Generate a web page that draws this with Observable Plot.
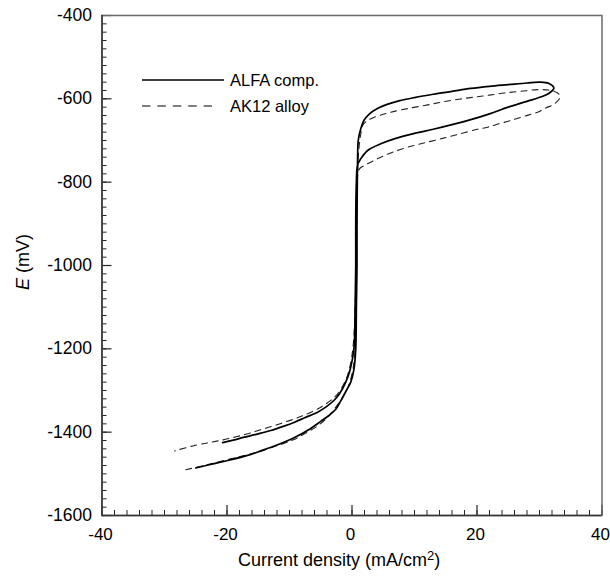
<!DOCTYPE html>
<html>
<head>
<meta charset="utf-8">
<script src="https://cdn.jsdelivr.net/npm/d3@7"></script>
<script src="https://cdn.jsdelivr.net/npm/@observablehq/plot@0.6"></script>
<style>
  html, body { margin: 0; padding: 0; background: #fff; }
  #wrap { position: relative; width: 610px; height: 576px; font-family: "Liberation Sans", Arial, sans-serif; }
  #overlay { position: absolute; left: 0; top: 0; pointer-events: none; }
</style>
</head>
<body>
<div id="wrap"></div>
<script>
// ---- data ----
const xDomain = [-40, 40];
const yDomain = [-1600, -400];
const xMajor = [-40, -20, 0, 20, 40];
const yMajor = [-1600, -1400, -1200, -1000, -800, -600, -400];
const xMinor = d3.range(-40, 40.001, 2);
const yMinor = d3.range(-1600, -399, 20);

const seriesNames = ["ALFA comp.", "AK12 alloy"];

// ALFA comp. (solid): current density (mA/cm2) and potential (mV), in sweep order
const alfaI = [-25.0,-22.5,-19.9,-17.0,-14.6,-12.0,-9.2,-7.0,-5.0,-3.7,-2.6,-1.8,-0.9,-0.2,0.3,0.6,0.7,0.8,0.8,0.85,0.9,1.0,1.4,1.9,2.8,4.0,5.5,7.5,10,13,16,19,22,25,28,30,31.5,32.3,31.6,30.3,28,25,22,19,16,13,10,7,4.6,2.5,1.4,0.9,0.7,0.6,0.6,0.5,0.3,-0.3,-1.0,-2.0,-2.9,-4.2,-5.5,-7.5,-9.2,-11,-13,-15,-17.2,-19,-20.7];
const alfaE = [-1486,-1477,-1468,-1457,-1445,-1431,-1413,-1395,-1374,-1360,-1345,-1325,-1300,-1280,-1250,-1200,-1100,-1000,-900,-800,-740,-700,-672,-652,-636,-624,-614,-605,-597,-589,-582,-575,-570,-566,-562,-560,-563,-574,-586,-595,-606,-620,-636,-650,-662,-673,-683,-695,-708,-724,-744,-758,-800,-900,-1000,-1100,-1200,-1250,-1280,-1308,-1324,-1340,-1352,-1365,-1376,-1386,-1396,-1404,-1412,-1419,-1425];

// AK12 alloy (dashed)
const ak12I = [-26.6,-24,-22.6,-20,-17.2,-14.5,-11.9,-9.5,-7.6,-5.5,-3.9,-2.5,-1.5,-0.6,0,0.4,0.6,0.7,0.8,0.9,1.1,1.4,1.7,2.5,3.6,5,6.2,9,11.6,14,15.8,18,20.1,22,24.4,27,29.7,31.5,32.9,33.3,32.4,31,29.7,27.5,25.4,23.5,21.7,20.1,17,14.2,11.5,8.9,6.5,4.6,3,2,1.2,0.8,0.7,0.6,0.5,0.2,-0.3,-1.0,-2.3,-3.5,-5,-7,-9.2,-12,-14.6,-17,-19.9,-22.5,-25.2,-28.4];
const ak12E = [-1490,-1481,-1476,-1466,-1456,-1445,-1432,-1419,-1404,-1385,-1364,-1338,-1316,-1290,-1260,-1220,-1150,-1000,-850,-780,-720,-685,-664,-652,-644,-637,-632,-623,-616,-609,-604,-599,-595,-591,-586,-582,-578,-579,-586,-596,-612,-622,-632,-642,-652,-660,-668,-673,-685,-696,-706,-716,-728,-740,-752,-760,-768,-800,-900,-1000,-1100,-1190,-1240,-1275,-1308,-1325,-1340,-1355,-1368,-1382,-1394,-1405,-1416,-1424,-1432,-1445];

// ---- build tables ----
const alfa = alfaI.map((x, k) => ({i: x, e: alfaE[k]}));
const ak12 = ak12I.map((x, k) => ({i: x, e: ak12E[k]}));

const W = 610, H = 576;
const mL = 101.5, mR = 8.5, mT = 15, mB = 61;
const pw = W - mL - mR, ph = H - mT - mB;
const font = "'Liberation Sans', Arial, sans-serif";

const chart = Plot.plot({
  width: W, height: H,
  marginLeft: mL, marginRight: mR, marginTop: mT, marginBottom: mB,
  x: {domain: xDomain},
  y: {domain: yDomain},
  style: {fontFamily: font, fontSize: "18px", color: "#000", background: "#fff"},
  marks: [
    Plot.axisX({ticks: xMajor, tickSize: 0, tickPadding: 12, tickFormat: d => String(d), label: null, fontSize: 17, dx: -1.5}),
    Plot.axisY({ticks: yMajor, tickSize: 0, tickPadding: 10, tickFormat: d => String(d), label: null, fontSize: 17.5}),
    Plot.tickX(xMinor, {x: d => d, insetTop: ph - 5, stroke: "#222", strokeWidth: 1}),
    Plot.tickX(xMajor, {x: d => d, insetTop: ph - 10, stroke: "#222", strokeWidth: 1.2}),
    Plot.tickY(yMinor, {y: d => d, insetRight: pw - 5, stroke: "#222", strokeWidth: 1}),
    Plot.tickY(yMajor, {y: d => d, insetRight: pw - 10, stroke: "#222", strokeWidth: 1.2}),
    Plot.frame({stroke: "#6a6a6a", strokeWidth: 1.5}),
    Plot.ruleX([xDomain[0]], {stroke: "#333", strokeWidth: 1.5}),
    Plot.ruleY([yDomain[0]], {stroke: "#333", strokeWidth: 1.5}),
    Plot.line(ak12, {x: "i", y: "e", stroke: "#222", strokeWidth: 1.1, strokeDasharray: "6,5", curve: "catmull-rom"}),
    Plot.line(alfa, {x: "i", y: "e", stroke: "#000", strokeWidth: 1.7, curve: "catmull-rom"})
  ]
});

const wrap = document.getElementById("wrap");
wrap.appendChild(chart);

// ---- overlay: legend and axis titles ----
const svg = d3.select(wrap).append("svg")
  .attr("id", "overlay").attr("width", W).attr("height", H)
  .style("font-family", font);

// legend
svg.append("line").attr("x1", 142).attr("x2", 224).attr("y1", 80).attr("y2", 80)
  .attr("stroke", "#000").attr("stroke-width", 1.6);
svg.append("text").attr("x", 230).attr("y", 80).attr("dy", "0.35em")
  .attr("font-size", 16.5).text(seriesNames[0]);
svg.append("line").attr("x1", 142).attr("x2", 212).attr("y1", 106).attr("y2", 106)
  .attr("stroke", "#555").attr("stroke-width", 1.3).attr("stroke-dasharray", "8.5,6.9");
svg.append("text").attr("x", 230).attr("y", 106).attr("dy", "0.35em")
  .attr("font-size", 16.5).text(seriesNames[1]);

// x title with superscript
const xt = svg.append("text").attr("x", 238).attr("y", 566).attr("font-size", 18);
xt.append("tspan").text("Current density (mA/cm");
xt.append("tspan").attr("font-size", 13).attr("dy", -6).text("2");
xt.append("tspan").attr("dy", 6).text(")");

// y title
const yt = svg.append("text").attr("transform", "translate(29,262) rotate(-90)")
  .attr("text-anchor", "middle").attr("font-size", 18);
yt.append("tspan").attr("font-style", "italic").text("E");
yt.append("tspan").text(" (mV)");
</script>
</body>
</html>
